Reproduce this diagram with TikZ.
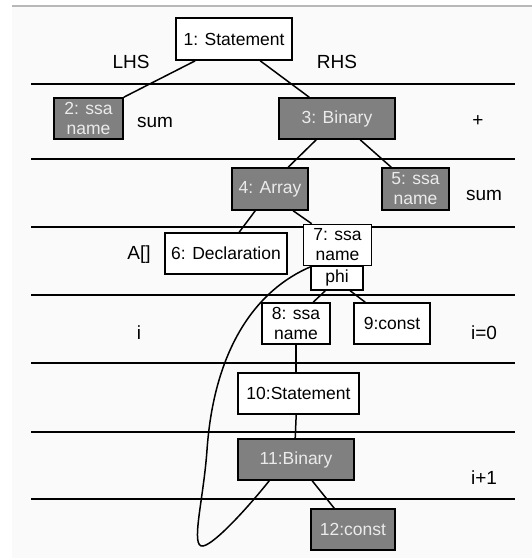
\documentclass[tikz,border=0pt]{standalone}
\usepackage{fontspec}
\setmainfont{Liberation Sans}
\begin{document}
\begin{tikzpicture}[x=1pt,y=-1pt,
  every node/.style={font=\fontsize{17.5}{20}\selectfont},
  wbox/.style={draw=black,line width=1.6pt,fill=white,inner sep=0pt,align=center},
  gbox/.style={draw=black,line width=1.6pt,fill=black!50,text=white!92!black,inner sep=0pt,align=center},
  lbl/.style={inner sep=0pt,anchor=center,font=\fontsize{19}{22}\selectfont},
  edge/.style={line width=1.5pt},
  rule/.style={line width=1.6pt}]
\useasboundingbox (0,0) rectangle (532,558);
\fill[black!2] (12,7) rectangle (532,558);
\draw[black!28,line width=1.5pt] (12,6) -- (532,6);
% horizontal rules
\foreach \yy in {84,159,227,295,363,432,499}
  \draw[rule] (31,\yy) -- (515,\yy);
% nodes
\node[wbox,minimum width=116pt,minimum height=42pt] (n1) at (234,39) {1: Statement};
\node[gbox,minimum width=69pt,minimum height=41pt] (n2) at (88.5,118.5) {2: ssa\\name};
\node[gbox,minimum width=116pt,minimum height=41pt] (n3) at (337,118.5) {3: Binary};
\node[gbox,minimum width=76pt,minimum height=42pt] (n4) at (270,189) {4: Array};
\node[gbox,minimum width=67pt,minimum height=42pt] (n5) at (415.5,189) {5: ssa\\name};
\node[wbox,minimum width=122pt,minimum height=41pt] (n6) at (226,253.5) {6: Declaration};
\node[wbox,minimum width=68pt,minimum height=41pt] (n7) at (337.5,245) {7: ssa\\name};
\node[wbox,minimum width=52pt,minimum height=24pt] (phi) at (337,278) {phi};
\node[wbox,minimum width=68pt,minimum height=41pt] (n8) at (296,323.5) {8: ssa\\name};
\node[wbox,minimum width=76pt,minimum height=41pt] (n9) at (392,323.5) {9:const};
\node[wbox,minimum width=121pt,minimum height=41pt] (n10) at (298.5,393.5) {10:Statement};
\node[gbox,minimum width=116pt,minimum height=41pt] (n11) at (296,459.5) {11:Binary};
\node[gbox,minimum width=84pt,minimum height=41pt] (n12) at (353,529.5) {12:const};
% labels
\node[lbl] (lhs) at (131,62) {LHS};
\node[lbl] (rhs) at (337,62) {RHS};
\node[lbl] (s1) at (155,122) {sum};
\node[lbl] (plus) at (478,121) {+};
\node[lbl] (s2) at (484,195) {sum};
\node[lbl] (arr) at (139,255) {A[]};
\node[lbl] (ii) at (139,333) {i};
\node[lbl] (i0) at (484,333) {i=0};
\node[lbl] (i1) at (484,478) {i+1};
% edges
\draw[edge] ([xshift=20pt]n1.south west) -- (n2.north east);
\draw[edge] ([xshift=85pt]n1.south west) -- ([xshift=31pt]n3.north west);
\draw[edge] ([xshift=38pt]n3.south west) -- ([xshift=57pt]n4.north west);
\draw[edge] ([xshift=82pt]n3.south west) -- ([xshift=10pt]n5.north west);
\draw[edge] ([xshift=24pt]n4.south west) -- ([xshift=75pt]n6.north west);
\draw[edge] ([xshift=62pt]n4.south west) -- ([xshift=9pt]n7.north west);
\draw[edge] ([xshift=15pt]phi.south west) -- ([xshift=52pt]n8.north west);
\draw[edge] ([xshift=40pt]phi.south west) -- ([xshift=12pt]n9.north west);
\draw[edge] ([xshift=35pt]n8.south west) -- ([xshift=59pt]n10.north west);
\draw[edge] ([xshift=59pt]n10.south west) -- ([xshift=58pt]n11.north west);
\draw[edge] ([xshift=75pt]n11.south west) -- ([xshift=24pt]n12.north west);
% phi back edge
\coordinate (c7) at ([xshift=9pt]n7.south west);
\coordinate (c11) at ([xshift=32pt]n11.south west);
\draw[edge] (c7) .. controls (255,290) and (214,350) .. (207,450)
  .. controls (203.5,500) and (190,548) .. (203,546)
  .. controls (215,544) and (250,505) .. (c11);
\end{tikzpicture}
\end{document}
